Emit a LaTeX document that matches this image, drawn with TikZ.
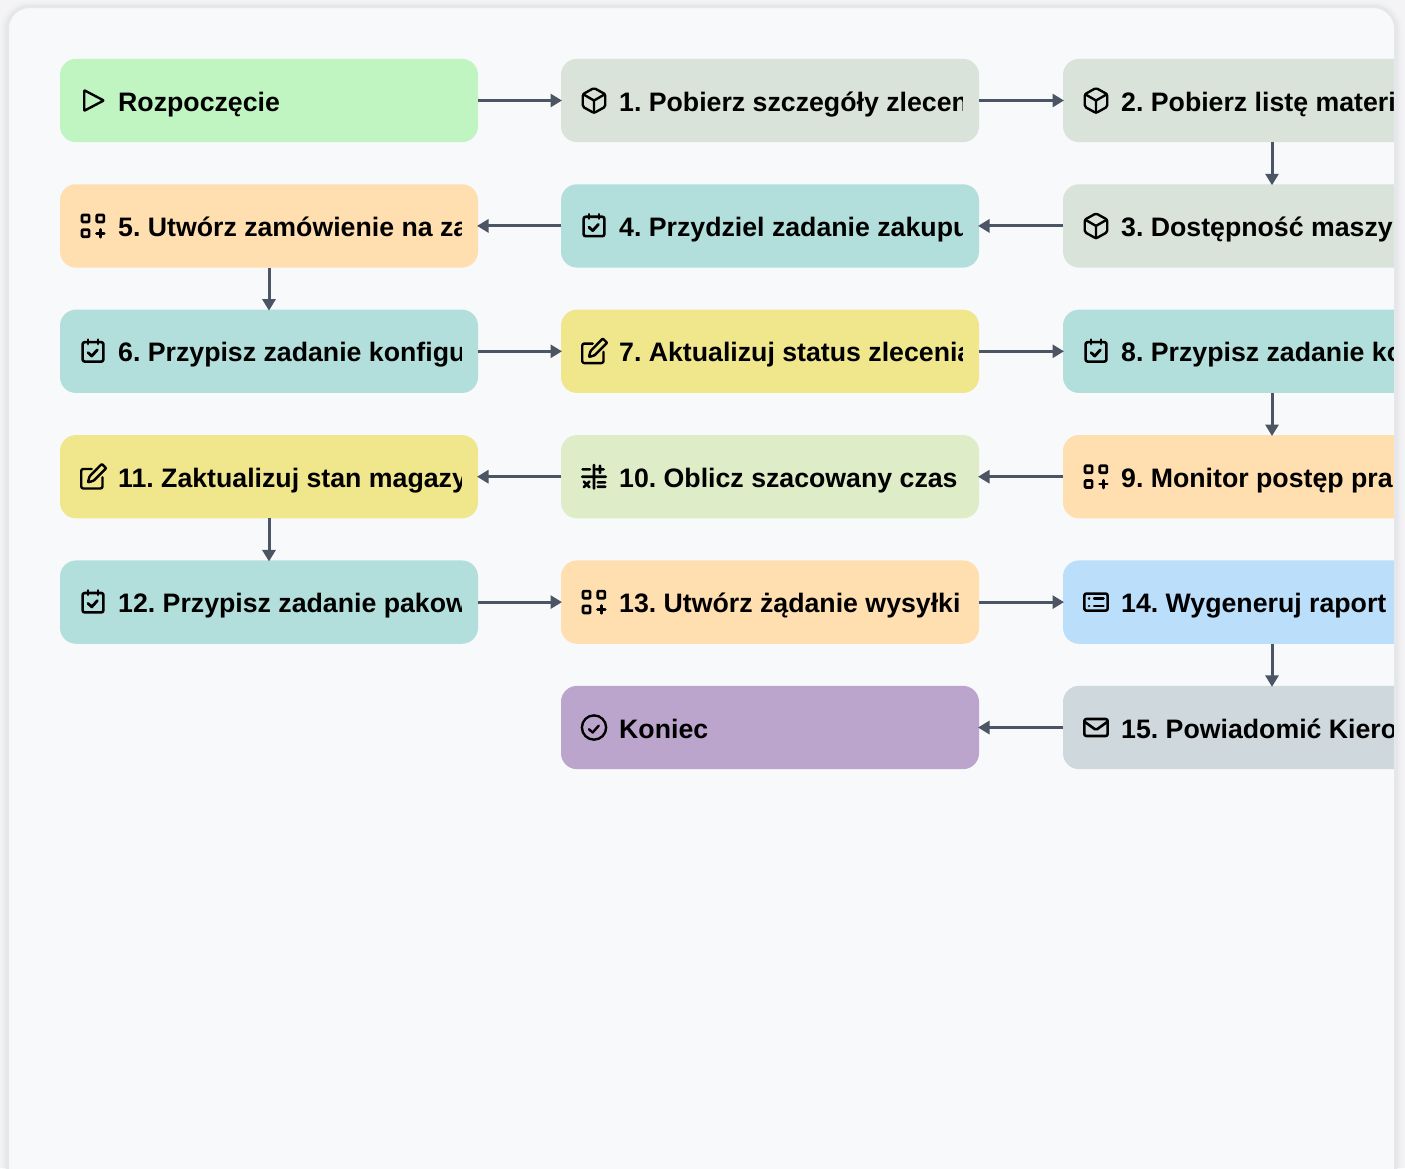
\documentclass[tikz,border=0pt]{standalone}
\usepackage{fontspec}
\setmainfont{Liberation Sans}
\frenchspacing
\usetikzlibrary{arrows.meta}
\definecolor{pageFill}{HTML}{F4F4F7}
\definecolor{paneFill}{HTML}{F8F9FA}
\definecolor{paneLine}{HTML}{E5E7EB}
\definecolor{flowLine}{HTML}{4B5563}
\definecolor{startFill}{HTML}{C0F5C2}
\definecolor{dataFill}{HTML}{D9E3D9}
\definecolor{taskFill}{HTML}{B2DFDB}
\definecolor{appFill}{HTML}{FFDEB0}
\definecolor{editFill}{HTML}{F0E68C}
\definecolor{calcFill}{HTML}{DEEDC8}
\definecolor{listFill}{HTML}{BBDEFB}
\definecolor{mailFill}{HTML}{CFD8DC}
\definecolor{endFill}{HTML}{BBA5CC}
\tikzset{
	stepbox/.style={rectangle, rounded corners=16pt, minimum width=418pt, minimum height=83.3pt, outer sep=0pt, inner sep=0pt},
	steplabel/.style={anchor=base west, inner sep=0pt, font=\fontsize{26.7pt}{32pt}\selectfont\bfseries, text=black},
	flow/.style={draw=flowLine, line width=3pt, shorten >=-1pt, -{Triangle[length=11.5pt,width=13pt]}},
	glyph/.style={draw=black, line width=2.4pt, line cap=round, line join=round, x=1.25pt, y=-1.25pt, shift={(-12,-12)}},
	pics/playglyph/.style={code={\draw[glyph, rounded corners=.6pt] (5,3.8) -- (20.6,12) -- (5,20.2) -- cycle;}},
	pics/cubeglyph/.style={code={
		\draw[glyph, rounded corners=1.6pt] (21,7) -- (12,2) -- (3,7) -- (3,17) -- (12,22) -- (21,17) -- cycle;
		\draw[glyph] (3.3,7) -- (12,12) -- (20.7,7) (12,22) -- (12,12);}},
	pics/taskglyph/.style={code={
		\draw[glyph, line width=2.6pt, rounded corners=2pt] (3.7,4.7) rectangle (20.3,20.2);
		\draw[glyph, line width=2.6pt] (8,2.6) -- (8,6.2) (16,2.6) -- (16,6.2);
		\draw[glyph, line width=2.8pt] (8,13) -- (11,15.8) -- (15.5,10.8);}},
	pics/appglyph/.style={code={
		\draw[glyph, line width=2.7pt, rounded corners=1pt] (3.2,3.2) rectangle (8.9,8.9) (15,3.2) rectangle (20.7,8.9) (3.2,15) rectangle (8.9,20.7);
		\draw[glyph, line width=2.7pt] (14.8,17.9) -- (21,17.9) (17.9,14.8) -- (17.9,21);}},
	pics/editglyph/.style={code={
		\draw[glyph, rounded corners=2pt] (11,5.8) -- (2.6,5.8) -- (2.6,21.4) -- (19.6,21.4) -- (19.6,12.5);
		\draw[glyph, rounded corners=.8pt] (19,1.8) -- (22.5,5.2) -- (12.5,15.2) -- (7.9,16.6) -- (9.2,11.8) -- cycle;}},
	pics/calcglyph/.style={code={
		\draw[glyph, line width=2.6pt] (12,2.6) -- (12,21.4) (2.6,12) -- (21.4,12)
			(2.9,6.1) -- (8.8,6.1) (13.8,6.1) -- (19.8,6.1) (16.8,3.1) -- (16.8,9.1)
			(3.9,15.9) -- (8.3,20.3) (8.3,15.9) -- (3.9,20.3) (15,16.5) -- (21,16.5) (15,20) -- (21,20);}},
	pics/listglyph/.style={code={
		\draw[glyph, line width=2.6pt, rounded corners=2pt] (2.7,5.2) rectangle (21.3,18.8);
		\draw[glyph, line width=2.6pt] (10.5,9) -- (18,9) (10.5,15) -- (18,15) (6.4,9) -- (6.5,9) (6.4,15) -- (6.5,15);}},
	pics/mailglyph/.style={code={
		\draw[glyph, line width=2.6pt, rounded corners=2pt] (2.7,5.2) rectangle (21.3,18.8);
		\draw[glyph, line width=2.6pt, rounded corners=1.5pt] (3,7.5) -- (12,14) -- (21,7.5);}},
	pics/doneglyph/.style={code={
		\draw[glyph] (12,12) circle [radius=9.7];
		\draw[glyph] (8,13.4) -- (10.9,16) -- (15.8,10.5);}},
}
% icon and label of a step, cut off where the step ends
\newcommand{\steptext}[3]{
	\pic at ([xshift=33pt]#1.west) {#2};
	\begin{scope}
		\clip (#1.south west) rectangle ([xshift=-17pt]#1.north east);
		\node (#1-text)[steplabel] at ([xshift=58pt,yshift=-10.6pt]#1.west){#3};
	\end{scope}
}
\begin{document}
\begin{tikzpicture}[x=1pt, y=-1pt]
	\useasboundingbox (0,0) rectangle (1405,1168);
	\fill[pageFill] (0,0) rectangle (1405,1168);
	% soft shadow of the pane
	\draw[black, opacity=.012, line width=14pt, rounded corners=22pt] (7.5,8) rectangle (1395.5,1200);
	\draw[black, opacity=.015, line width=9pt, rounded corners=22pt] (7.5,8) rectangle (1395.5,1200);
	\draw[black, opacity=.02, line width=5pt, rounded corners=22pt] (7.5,8) rectangle (1395.5,1200);
	\path[draw=paneLine, line width=3pt, fill=paneFill, rounded corners=22pt] (7.5,6.5) rectangle (1395.5,1200);
	\begin{scope}
		\clip (9,8) rectangle (1393.8,1168);
		% first column
		\node (start)[stepbox, fill=startFill] at (269,100.5){};
		\node (s5)[stepbox, fill=appFill] at (269,225.9){};
		\node (s6)[stepbox, fill=taskFill] at (269,351.3){};
		\node (s11)[stepbox, fill=editFill] at (269,476.7){};
		\node (s12)[stepbox, fill=taskFill] at (269,602.1){};
		% second column
		\node (s1)[stepbox, fill=dataFill] at (770,100.5){};
		\node (s4)[stepbox, fill=taskFill] at (770,225.9){};
		\node (s7)[stepbox, fill=editFill] at (770,351.3){};
		\node (s10)[stepbox, fill=calcFill] at (770,476.7){};
		\node (s13)[stepbox, fill=appFill] at (770,602.1){};
		\node (end)[stepbox, fill=endFill] at (770,727.5){};
		% third column
		\node (s2)[stepbox, fill=dataFill] at (1272,100.5){};
		\node (s3)[stepbox, fill=dataFill] at (1272,225.9){};
		\node (s8)[stepbox, fill=taskFill] at (1272,351.3){};
		\node (s9)[stepbox, fill=appFill] at (1272,476.7){};
		\node (s14)[stepbox, fill=listFill] at (1272,602.1){};
		\node (s15)[stepbox, fill=mailFill] at (1272,727.5){};
		%
		\steptext{start}{playglyph}{Rozpoczęcie}
		\steptext{s1}{cubeglyph}{1. Pobierz szczegóły zlecen}
		\steptext{s2}{cubeglyph}{2. Pobierz listę materi}
		\steptext{s3}{cubeglyph}{3. Dostępność maszy}
		\steptext{s4}{taskglyph}{4. Przydziel zadanie zakupu}
		\steptext{s5}{appglyph}{5. Utwórz zamówienie na za}
		\steptext{s6}{taskglyph}{6. Przypisz zadanie konfigu}
		\steptext{s7}{editglyph}{7. Aktualizuj status zlecenia}
		\steptext{s8}{taskglyph}{8. Przypisz zadanie ko}
		\steptext{s9}{appglyph}{9. Monitor postęp pra}
		\steptext{s10}{calcglyph}{10. Oblicz szacowany czas}
		\steptext{s11}{editglyph}{11. Zaktualizuj stan magazy}
		\steptext{s12}{taskglyph}{12. Przypisz zadanie pakow}
		\steptext{s13}{appglyph}{13. Utwórz żądanie wysyłki}
		\steptext{s14}{listglyph}{14. Wygeneruj raport}
		\steptext{s15}{mailglyph}{15. Powiadomić Kiero}
		\steptext{end}{doneglyph}{Koniec}
	\end{scope}
	%
	\draw[flow] (start) -- (s1);
	\draw[flow] (s1) -- (s2);
	\draw[flow] (s2) -- (s3);
	\draw[flow] (s3) -- (s4);
	\draw[flow] (s4) -- (s5);
	\draw[flow] (s5) -- (s6);
	\draw[flow] (s6) -- (s7);
	\draw[flow] (s7) -- (s8);
	\draw[flow] (s8) -- (s9);
	\draw[flow] (s9) -- (s10);
	\draw[flow] (s10) -- (s11);
	\draw[flow] (s11) -- (s12);
	\draw[flow] (s12) -- (s13);
	\draw[flow] (s13) -- (s14);
	\draw[flow] (s14) -- (s15);
	\draw[flow] (s15) -- (end);
\end{tikzpicture}
\end{document}
